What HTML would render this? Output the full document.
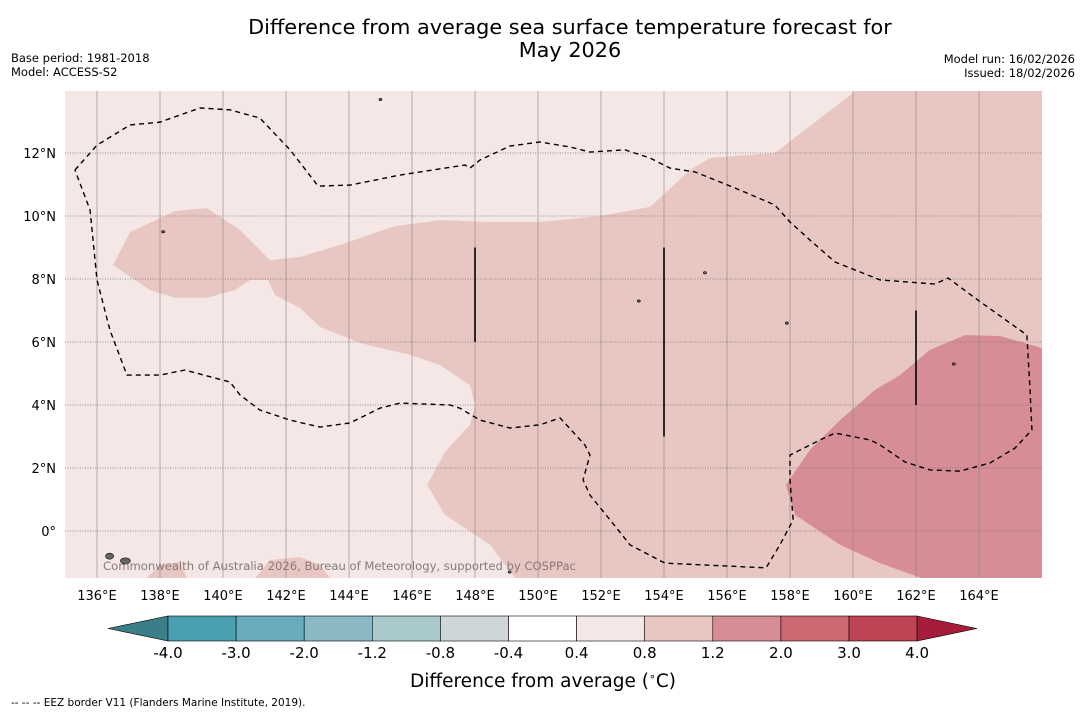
<!DOCTYPE html>
<html><head><meta charset="utf-8"><style>
body{margin:0;background:#fff;width:1085px;height:713px;overflow:hidden;font-family:"DejaVu Sans","Liberation Sans",sans-serif}
svg{display:block}
</style></head><body>
<svg id="chart" width="1085" height="713" font-family="DejaVu Sans, Liberation Sans, sans-serif">
<text x="570" y="34" font-size="20.8" text-anchor="middle">Difference from average sea surface temperature forecast for</text>
<text x="570" y="57" font-size="20.8" text-anchor="middle">May 2026</text>
<text x="11" y="62" font-size="11.5">Base period: 1981-2018</text>
<text x="11" y="76" font-size="11.5">Model: ACCESS-S2</text>
<text x="1075" y="63" font-size="11.5" text-anchor="end">Model run: 16/02/2026</text>
<text x="1075" y="77" font-size="11.5" text-anchor="end">Issued: 18/02/2026</text>
<defs><clipPath id="mc"><rect x="65" y="91" width="977" height="487"/></clipPath></defs>
<g id="map" clip-path="url(#mc)"></g>
<g id="axes"></g>
<g id="cbar"></g>
<text x="543" y="687" font-size="18.5" text-anchor="middle">Difference from average (<tspan font-size="11" dy="-7">∘</tspan><tspan dy="7">C)</tspan></text>
<text x="11" y="706" font-size="10.5">--  --  -- EEZ border V11 (Flanders Marine Institute, 2019).</text>
</svg>
<script>
const lonTicks=[136,138,140,142,144,146,148,150,152,154,156,158,160,162,164];
const latTicks=[0,2,4,6,8,10,12];
const mediumLon=[136.51,137.05,138.48,139.49,140.54,141.49,142.44,143.71,145.46,146.89,148.48,150.06,151.97,153.56,154.83,155.46,157.52,160.38,166,166,149.43,148.48,147.05,146.48,147.05,147.84,148.0,147.84,146.89,145.94,144.35,143.08,142.44,141.65,141.43,140.86,140.38,139.49,138.48,137.68];
const mediumLat=[8.44,9.49,10.16,10.25,9.56,8.60,8.70,9.08,9.68,9.87,9.81,9.81,10.0,10.29,11.46,11.84,12.0,14.2,14.2,-1.7,-1.7,-0.44,0.51,1.46,2.51,3.37,4.0,4.63,5.27,5.59,5.97,6.48,7.08,7.49,7.97,7.97,7.65,7.40,7.40,7.65];
const blob1Lon=[137.37,138.0,138.63,138.95], blob1Lat=[-1.7,-1.08,-0.98,-1.7];
const blob2Lon=[140.86,141.49,142.44,143.08,143.56], blob2Lat=[-1.7,-0.92,-0.83,-1.08,-1.7];
const darkLon=[166,164.67,163.56,162.44,161.49,160.70,159.59,158.63,157.87,158.16,159.59,160.86,162.76,166];
const darkLat=[5.81,6.19,6.22,5.75,4.95,4.48,3.52,2.57,1.46,0.51,-0.44,-1.02,-1.7,-1.7];
const eezLon=[135.30,136,137.05,138.0,139.27,140.22,141.17,142.13,143.02,144.03,145.62,147.68,147.84,148.16,149.11,150.06,151.02,151.65,152.76,153.56,154.19,154.98,156.25,157.52,158.0,158.63,159.43,160.86,162.60,163.02,163.87,165.52,165.62,165.68,165.14,164.35,163.40,162.44,161.65,160.86,160.54,159.43,158.95,158.0,158.0,158.10,157.68,157.24,154.03,152.92,152.29,151.65,151.43,151.65,151.49,150.70,150.06,149.11,148.16,147.52,147.21,145.62,144.98,144.03,143.08,142.13,141.17,140.54,140.22,138.79,138.0,136.95,136.41,136,135.78,135.30];
const eezLat=[11.46,12.25,12.89,12.98,13.43,13.37,13.11,12.10,10.95,10.98,11.30,11.62,11.52,11.78,12.22,12.35,12.19,12.03,12.10,11.84,11.52,11.40,10.89,10.35,9.81,9.24,8.54,7.97,7.84,8.03,7.40,6.22,4.48,3.21,2.63,2.16,1.90,1.94,2.19,2.73,2.89,3.11,2.89,2.41,1.62,0.35,-0.44,-1.17,-1.02,-0.44,0.35,1.14,1.62,2.41,2.73,3.59,3.37,3.27,3.52,3.90,4.0,4.06,3.90,3.43,3.30,3.52,3.84,4.32,4.73,5.11,4.95,4.95,6.38,7.97,10.19,11.46];
const barLon=[148,154,162], barTop=[9,9,7], barBot=[6,3,4];
const islandLon=[145.0,149.1,153.2,157.9,163.2,155.3,138.1,136.9,136.4], islandLat=[13.7,-1.3,7.3,6.6,5.3,8.2,9.5,-0.95,-0.8];
const cbLabels=["-4.0","-3.0","-2.0","-1.2","-0.8","-0.4","0.4","0.8","1.2","2.0","3.0","4.0"];
const cbColors=["#4aa0b0","#68acbb","#8ab9c4","#aac9cd","#cfd6d7","#ffffff","#f4e7e6","#e8c7c3","#d68d95","#cb6872","#be4354"];
const X=l=>97+(l-136)*31.5, Y=l=>531-l*31.5;
const NS="http://www.w3.org/2000/svg";
function mk(t,a,p){const e=document.createElementNS(NS,t);for(const k in a)e.setAttribute(k,a[k]);p.appendChild(e);return e;}
const map=document.getElementById('map'),axes=document.getElementById('axes'),cb=document.getElementById('cbar');
let bg=mk('rect',{x:65,y:91,width:977,height:487,fill:'#f4e7e6'},map);


function poly(lo,la,fill,name){const p=mk('polygon',{points:lo.map((v,i)=>X(v)+','+Y(la[i])).join(' '),fill:fill},map);

}
poly(mediumLon,mediumLat,'#e8c7c3','anomaly-region-0.8-1.2');
poly(blob1Lon,blob1Lat,'#e8c7c3','anomaly-blob-west');
poly(blob2Lon,blob2Lat,'#e8c7c3','anomaly-blob-central');
poly(darkLon,darkLat,'#d68d95','anomaly-region-1.2-2.0');
lonTicks.forEach(l=>{const g=mk('line',{x1:X(l),x2:X(l),y1:91,y2:578,stroke:'#8a8080',"stroke-width":0.6},map);


const t=mk('text',{x:X(l),y:600,"font-size":13,"text-anchor":"middle"},axes);t.textContent=l+'°E';

});
latTicks.forEach(l=>{const g=mk('line',{x1:65,x2:1042,y1:Y(l),y2:Y(l),stroke:'#777',"stroke-width":0.8,"stroke-dasharray":"1,1.5"},map);


const t=mk('text',{x:56,y:Y(l)+5,"font-size":13,"text-anchor":"end"},axes);t.textContent=l===0?'0°':l+'°N';

});
const ez=mk('polyline',{points:eezLon.map((v,i)=>X(v)+','+Y(eezLat[i])).join(' '),fill:'none',stroke:'#000',"stroke-width":1.4,"stroke-dasharray":"5,4"},map);


barLon.forEach((l,i)=>{const b=mk('line',{x1:X(l),x2:X(l),y1:Y(barTop[i]),y2:Y(barBot[i]),stroke:'#000',"stroke-width":1.6},map);

});
islandLon.forEach((l,i)=>{const s=mk('ellipse',{cx:X(l),cy:Y(islandLat[i]),rx:i>6?(i==7?5:4):1.5,ry:i>6?3:1.2,fill:'#666',stroke:'#000',"stroke-width":0.6},map);

});
const cr=mk('text',{x:103,y:570,"font-size":11.6,fill:'#8a7a7a'},map);cr.textContent='Commonwealth of Australia 2026, Bureau of Meteorology, supported by COSPPac';


const x0=168,w=68.1,yt=616,h=25;
const lt=mk('polygon',{points:`108,${yt+h/2} ${x0},${yt} ${x0},${yt+h}`,fill:'#3a7f88',stroke:'#000',"stroke-width":0.6},cb);


cbColors.forEach((c,i)=>{const r=mk('rect',{x:x0+i*w,y:yt,width:w,height:h,fill:c,stroke:'#000',"stroke-width":0.6},cb);

});
const xe=x0+cbColors.length*w;
const rt=mk('polygon',{points:`${xe},${yt} ${977},${yt+h/2} ${xe},${yt+h}`,fill:'#a51d3b',stroke:'#000',"stroke-width":0.6},cb);


cbLabels.forEach((s,i)=>{const t=mk('text',{x:x0+i*w,y:658,"font-size":15,"text-anchor":"middle"},cb);t.textContent=s;

});
</script>
</body></html>
